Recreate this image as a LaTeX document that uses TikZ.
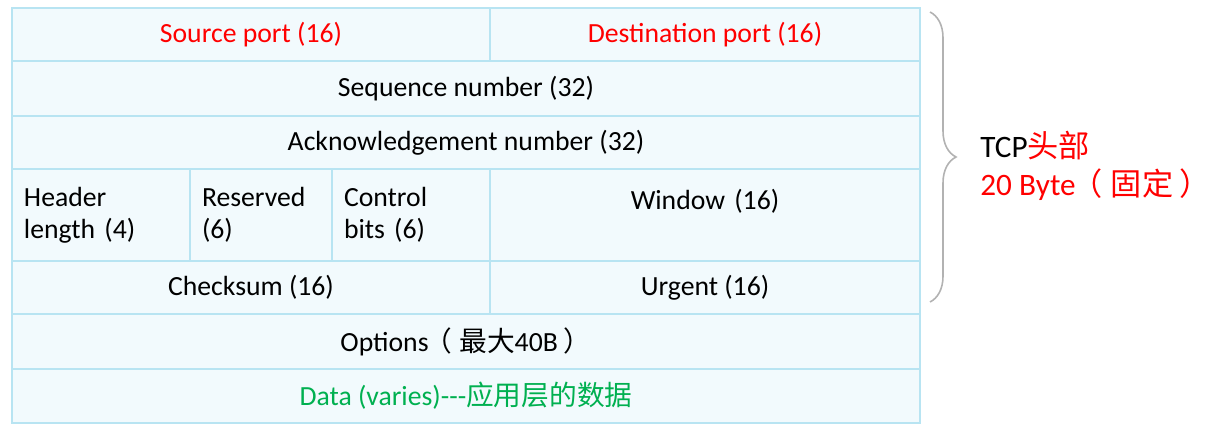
\documentclass[tikz,border=0pt]{standalone}
\usepackage{fontspec}
\usepackage{xcolor}
\setmainfont{Carlito}
\newfontfamily\cjk{Noto Sans CJK SC}
\usetikzlibrary{decorations.pathreplacing}
\definecolor{cellfill}{HTML}{F2FAFD}
\definecolor{cellline}{HTML}{B8E4F2}
\definecolor{datagreen}{HTML}{00B050}

\begin{document}
\begin{tikzpicture}[
  x=0.5pt, y=-0.5pt,
  font=\fontsize{13.85}{16}\selectfont,
  cell/.style={rectangle,draw=cellline,fill=cellfill,line width=1pt,inner sep=0pt},
  wcell/.style={cell,inner sep=6pt},
  brace/.style={decorate,decoration={brace,amplitude=13pt},draw=black!30,line width=0.8pt}
]
  \useasboundingbox (0,0) rectangle (1218,433);
  % row 1
  \node[cell,minimum width=239pt,minimum height=26.5pt,text=red] (src) at (251,34.5) {Source port (16)};
  \node[cell,minimum width=215pt,minimum height=26.5pt,text=red] (dst) at (705,34.5) {Destination port (16)};
  % rows 2 and 3
  \node[cell,minimum width=454pt,minimum height=27.5pt] (seq) at (466,88.5) {Sequence number (32)};
  \node[cell,minimum width=454pt,minimum height=26.5pt] (ack) at (466,142.5) {Acknowledgement number (32)};
  % row 4
  \node[wcell,align=left,text width=77pt,minimum height=46pt] (hlen) at (101,215) {Header\\length (4)};
  \node[wcell,align=left,text width=59pt,minimum height=46pt] (rsv) at (261,215) {Reserved\\(6)};
  \node[wcell,align=left,text width=67pt,minimum height=46pt] (ctl) at (411,215) {Control\\bits (6)};
  \node[wcell,align=center,text width=203pt,minimum height=46pt] (win) at (705,215) {Window (16)\\\mbox{}};
  % row 5
  \node[cell,minimum width=239pt,minimum height=26.5pt] (chk) at (251,287.5) {Checksum (16)};
  \node[cell,minimum width=215pt,minimum height=26.5pt] (urg) at (705,287.5) {Urgent (16)};
  % rows 6 and 7
  \node[cell,minimum width=454pt,minimum height=27.5pt] (opt) at (466,341.5) {Options\hspace{-2pt}{\cjk（\hspace{3.5pt}最大}40B\hspace{3pt}{\cjk）}};
  \node[cell,minimum width=454pt,minimum height=27pt,text=datagreen] (data) at (466,396) {Data (varies)-{}-{}-{\cjk 应用层的数据}};
  % brace and header note
  \coordinate (btop) at (930,12);
  \coordinate (bbot) at (930,302);
  \draw[brace] (btop) -- (bbot);
  \node[anchor=west,align=left,inner sep=0pt,font=\fontsize{15.6}{19}\selectfont] (hdr) at (980,166)
    {TCP\textcolor{red}{\cjk 头部}\\\textcolor{red}{20 Byte\hspace{-2pt}{\cjk（\hspace{4pt}固定\hspace{3pt}）}}};
\end{tikzpicture}
\end{document}
